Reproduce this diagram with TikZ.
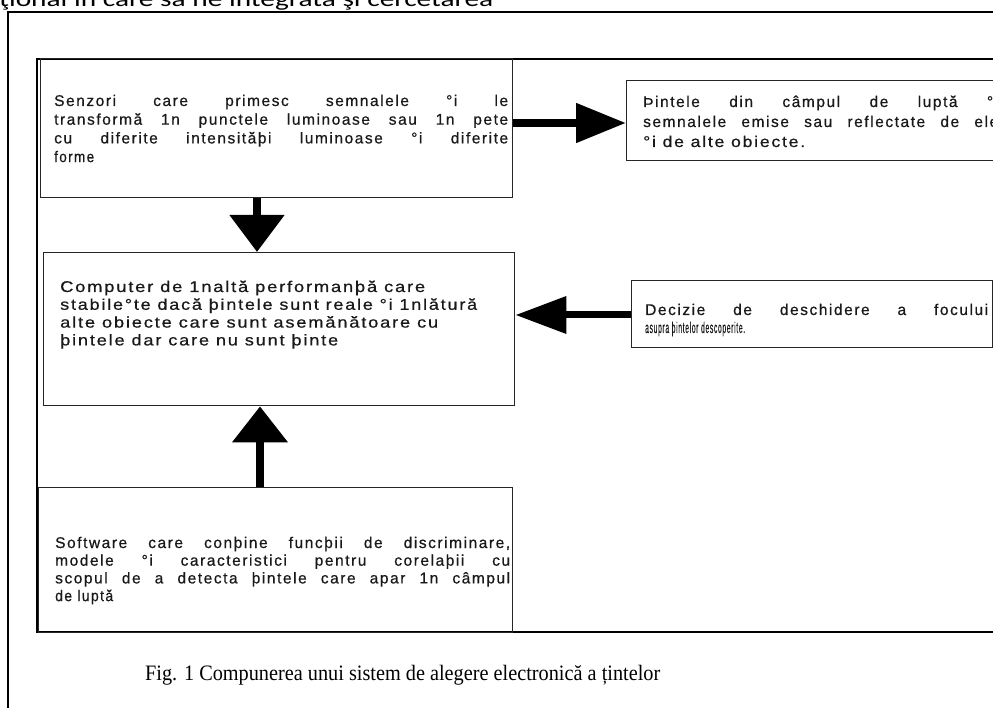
\documentclass[tikz,border=0pt]{standalone}
\usepackage{fontspec}
\usepackage{graphicx}
\usetikzlibrary{arrows.meta}
\newfontfamily\boxfont[LetterSpace=10,FakeBold=0.6]{Liberation Sans}
\newfontfamily\capfont{Liberation Serif}
\newfontfamily\topfont{Carlito}
\newcommand\bxf{\boxfont\fontsize{15.5pt}{18pt}\selectfont}
\newcommand\jline[2]{\makebox[#1][s]{\bxf #2}}
\newcommand\fline[2]{\resizebox{#1}{\height}{\bxf #2}}
\tikzset{
  frame/.style={line width=2.8pt, black},
  outerframe/.style={line width=2.2pt, black},
  box/.style={draw=black!85, line width=1.4pt, inner sep=0pt, anchor=north west},
  txt/.style={anchor=base west, inner sep=0pt, text=black!90},
  shaft/.style={line width=8pt, black},
}
\begin{document}
\begin{tikzpicture}[x=1pt,y=-1pt]
\useasboundingbox (0,0) rectangle (993,708);
% top running text (cut)
\node[anchor=base west, inner sep=0pt] (top) at (-1,7) {\resizebox{494pt}{\height}{\topfont\fontsize{22pt}{22pt}\selectfont ţional în care să ne integrată şi cercetarea}};
% frames
\draw[outerframe] (8,712) -- (8,12) -- (1000,12);
\draw[frame] (1000,59) -- (37,59) -- (37,632) -- (1000,632);
% boxes
\node[box, minimum width=472pt, minimum height=139pt] (b1) at (40,58) {};
\node[box, minimum width=471pt, minimum height=153pt] (b2) at (43,252) {};
\node[box, minimum width=474pt, minimum height=145pt] (b3) at (38,487) {};
\node[box, minimum width=384pt, minimum height=80pt] (b4) at (626,80) {};
\node[box, minimum width=361pt, minimum height=67pt] (b5) at (631,280) {};
% texts
\node[txt] (t1) at (54,106) {\vtop{\baselineskip=18.7pt
  \hbox{\jline{454pt}{Senzori care primesc semnalele °i le}}
  \hbox{\jline{454pt}{transformă 1n punctele luminoase sau 1n pete}}
  \hbox{\jline{454pt}{cu diferite intensităþi luminoase °i diferite}}
  \hbox{\fline{40pt}{forme}}}};
\node[txt] (t2) at (60,292) {\vtop{\baselineskip=17.8pt
  \hbox{\fline{365pt}{Computer de 1naltă performanþă care}}
  \hbox{\fline{417pt}{stabile°te dacă þintele sunt reale °i 1nlătură}}
  \hbox{\fline{378pt}{alte obiecte care sunt asemănătoare cu}}
  \hbox{\fline{278pt}{þintele dar care nu sunt þinte}}}};
\node[txt] (t3) at (55,548) {\vtop{\baselineskip=17.7pt
  \hbox{\jline{455pt}{Software care conþine funcþii de discriminare,}}
  \hbox{\jline{455pt}{modele °i caracteristici pentru corelaþii cu}}
  \hbox{\jline{455pt}{scopul de a detecta þintele care apar 1n câmpul}}
  \hbox{\fline{58pt}{de luptă}}}};
\node[txt] (t4) at (643,107) {\vtop{\baselineskip=20pt
  \hbox{\jline{355pt}{Þintele din câmpul de luptă °i}}
  \hbox{\jline{355pt}{semnalele emise sau reflectate de ele}}
  \hbox{\fline{162pt}{°i de alte obiecte.}}}};
\node[txt] (t5) at (645,315) {\vtop{\baselineskip=18pt
  \hbox{\jline{343pt}{Decizie de deschidere a focului}}
  \hbox{\fline{100pt}{asupra þintelor descoperite.}}}};
% caption
\node[anchor=base west, inner sep=0pt] (cap) at (145,680) {\resizebox{515pt}{\height}{\capfont\fontsize{22pt}{22pt}\selectfont Fig. 1 Compunerea unui sistem de alegere electronică a țintelor}};
% arrows
\coordinate (xa) at (257,0);
\coordinate (xb) at (260,0);
\coordinate (ya) at (0,123);
\coordinate (yb) at (0,315);
\draw[shaft, -{Triangle[length=37pt,width=53pt]}] (b1.south -| xa) -- (b2.north -| xa);
\draw[shaft, -{Triangle[length=36pt,width=54pt]}] (b3.north -| xb) -- (b2.south -| xb);
\draw[shaft, -{Triangle[length=50pt,width=38pt]}] (b1.east |- ya) -- (b4.west |- ya);
\draw[shaft, line width=7pt, -{Triangle[length=51pt,width=36pt]}] (b5.west |- yb) -- (b2.east |- yb);
\end{tikzpicture}
\end{document}
